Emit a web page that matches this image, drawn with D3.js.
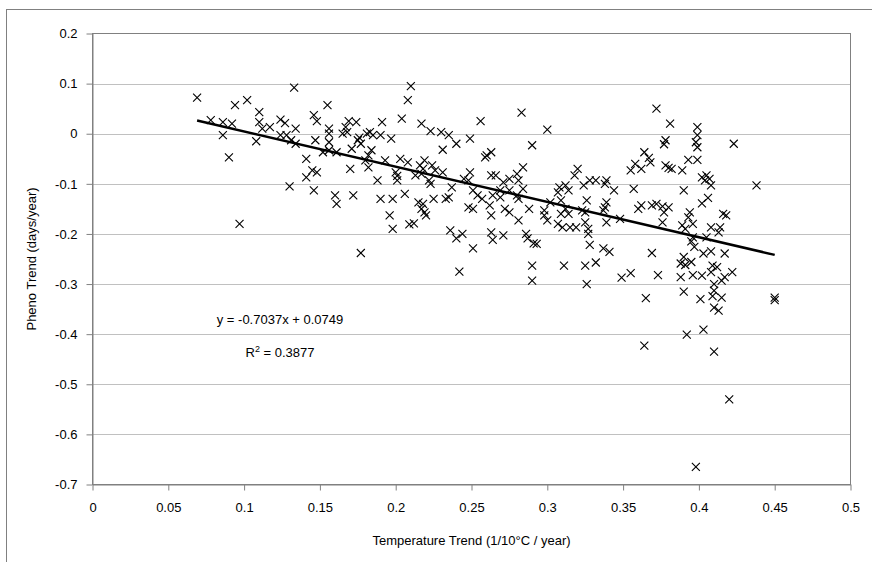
<!DOCTYPE html>
<html>
<head>
<meta charset="UTF-8">
<script src="https://d3js.org/d3.v7.min.js"></script>
<style>
  body { margin: 0; background: #fff; }
  svg { display: block; font-family: "Liberation Sans", Arial, sans-serif; }
</style>
</head>
<body>
<svg width="872" height="562"></svg>
<script>
// temperature trend (x) and pheno trend (y)
const tempTrend = [
  0.069,0.133,0.094,0.102,0.078,0.086,0.092,0.086,0.110,0.110,0.112,0.117,0.124,0.127,0.134,0.124,0.128,0.131,0.134,0.108,
  0.090,0.130,0.097,0.141,0.141,
  0.210,0.208,0.155,0.146,0.148,0.169,0.174,0.191,0.204,0.217,0.156,0.167,0.165,0.168,0.156,0.181,0.183,0.185,0.190,0.197,
  0.147,0.156,0.175,0.177,0.176,0.156,0.161,0.171,0.184,0.182,0.152,0.180,0.193,0.203,0.208,0.216,0.145,0.148,0.170,0.182,
  0.200,0.201,0.213,0.217,0.188,0.201,0.146,0.160,0.161,0.172,0.190,0.198,0.206,0.215,0.217,0.196,0.198,0.209,0.212,0.177,
  0.283,0.256,0.290,0.223,0.230,0.235,0.240,0.249,0.231,0.259,0.263,0.260,0.219,0.218,0.224,0.226,0.231,0.222,0.223,0.237,
  0.249,0.245,0.248,0.263,0.266,0.271,0.275,0.280,0.284,0.281,0.284,0.275,0.269,0.251,0.254,0.257,0.264,0.269,0.280,0.281,
  0.288,0.218,0.219,0.220,0.225,0.233,0.235,0.248,0.251,0.262,0.263,0.272,0.275,0.281,0.236,0.244,0.263,0.271,0.286,
  0.240,0.251,0.264,0.287,0.291,0.293,0.242,0.290,0.290,
  0.300,0.372,0.364,0.367,0.368,0.358,0.355,0.362,0.320,0.318,0.308,0.312,0.314,0.307,0.324,0.328,0.332,0.339,0.338,0.344,
  0.357,0.302,0.309,0.326,0.339,0.338,0.362,0.369,0.360,0.298,0.298,0.300,0.312,0.309,0.314,0.323,0.325,0.337,0.307,0.310,
  0.315,0.319,0.325,0.327,0.327,0.339,0.348,
  0.328,0.337,0.341,0.369,0.311,0.325,0.332,0.349,0.355,0.373,0.326,0.365,0.364,
  0.381,0.399,0.399,0.398,0.399,0.423,0.378,0.377,0.393,0.399,0.378,0.380,0.382,0.389,0.402,0.405,0.407,0.408,0.404,0.438,
  0.390,0.406,0.402,0.372,0.376,0.380,0.377,0.376,0.394,0.393,0.396,0.389,0.391,0.416,0.418,0.408,0.414,0.413,0.405,0.396,
  0.395,0.397,0.417,0.403,0.408,0.390,0.388,0.395,0.391,0.409,0.412,0.422,0.388,0.396,0.402,0.408,0.417,0.415,0.410,0.390,
  0.410,0.401,0.409,0.415,0.410,0.413,0.450,0.450,0.392,0.403,0.410,0.420,0.398
];
const phenoTrend = [
  0.072,0.092,0.057,0.067,0.027,0.023,0.020,-0.003,0.043,0.023,0.010,0.013,0.028,0.021,0.010,-0.003,-0.003,-0.013,-0.020,-0.015,
  -0.047,-0.105,-0.180,-0.050,-0.087,
  0.095,0.067,0.057,0.037,0.025,0.025,0.023,0.023,0.030,0.020,0.010,0.013,0.000,0.003,0.000,0.000,0.003,-0.003,-0.003,-0.010,
  -0.013,-0.017,-0.013,-0.020,-0.008,-0.033,-0.037,-0.030,-0.033,-0.043,-0.037,-0.053,-0.053,-0.050,-0.057,-0.063,-0.073,-0.077,-0.070,-0.067,
  -0.077,-0.084,-0.083,-0.080,-0.093,-0.093,-0.113,-0.123,-0.140,-0.123,-0.130,-0.130,-0.120,-0.137,-0.150,-0.163,-0.190,-0.181,-0.179,-0.238,
  0.042,0.025,-0.023,0.005,0.003,-0.003,-0.020,-0.010,-0.032,-0.047,-0.037,-0.043,-0.053,-0.070,-0.063,-0.073,-0.077,-0.093,-0.100,-0.107,
  -0.077,-0.090,-0.093,-0.083,-0.083,-0.097,-0.090,-0.080,-0.067,-0.093,-0.110,-0.113,-0.113,-0.113,-0.123,-0.130,-0.123,-0.127,-0.123,-0.130,
  -0.150,-0.140,-0.157,-0.163,-0.130,-0.130,-0.127,-0.147,-0.150,-0.143,-0.163,-0.150,-0.157,-0.173,-0.193,-0.200,-0.197,-0.203,-0.200,
  -0.209,-0.229,-0.212,-0.209,-0.219,-0.220,-0.275,-0.263,-0.293,
  0.008,0.050,-0.037,-0.048,-0.057,-0.060,-0.073,-0.070,-0.070,-0.083,-0.107,-0.103,-0.113,-0.117,-0.103,-0.093,-0.093,-0.093,-0.100,-0.113,
  -0.110,-0.137,-0.133,-0.133,-0.137,-0.147,-0.143,-0.143,-0.150,-0.153,-0.163,-0.173,-0.150,-0.160,-0.160,-0.153,-0.157,-0.153,-0.180,-0.187,
  -0.187,-0.187,-0.177,-0.190,-0.200,-0.177,-0.170,
  -0.222,-0.229,-0.236,-0.238,-0.263,-0.263,-0.257,-0.287,-0.278,-0.282,-0.300,-0.328,-0.423,
  0.020,0.013,-0.003,-0.017,-0.027,-0.020,-0.013,-0.021,-0.052,-0.052,-0.063,-0.068,-0.070,-0.073,-0.087,-0.083,-0.090,-0.103,-0.093,-0.103,
  -0.113,-0.128,-0.139,-0.140,-0.145,-0.147,-0.157,-0.177,-0.157,-0.167,-0.180,-0.183,-0.190,-0.160,-0.163,-0.187,-0.187,-0.197,-0.207,-0.207,
  -0.215,-0.226,-0.239,-0.239,-0.235,-0.246,-0.259,-0.256,-0.262,-0.263,-0.266,-0.276,-0.286,-0.282,-0.283,-0.276,-0.286,-0.293,-0.300,-0.315,
  -0.313,-0.330,-0.324,-0.327,-0.347,-0.353,-0.327,-0.332,-0.401,-0.391,-0.435,-0.530,-0.665
];
const xTicks = [0,0.05,0.1,0.15,0.2,0.25,0.3,0.35,0.4,0.45,0.5];
const yTicks = [0.2,0.1,0,-0.1,-0.2,-0.3,-0.4,-0.5,-0.6,-0.7];
const slope = -0.7037, intercept = 0.0749;
const rSquared = "0.3877";

const svg = d3.select("svg");
const plotL = 92.5, plotR = 850.5, plotT = 33.5, plotB = 484.5;

const x = d3.scaleLinear().domain([0, 0.5]).range([plotL, plotR]);
const y = d3.scaleLinear().domain([-0.7, 0.2]).range([plotB, plotT]);

// outer chart frame (only top/left visible)
svg.append("rect").attr("x", 6.5).attr("y", 9.5).attr("width", 900).attr("height", 600)
  .attr("fill", "none").attr("stroke", "#808080");

// gridlines
svg.append("g").selectAll("line").data(yTicks.slice(1, -1)).enter().append("line")
  .attr("x1", plotL).attr("x2", plotR)
  .attr("y1", d => Math.round(y(d)) + 0.5).attr("y2", d => Math.round(y(d)) + 0.5)
  .attr("stroke", "#c0c0c0");

// plot frame
svg.append("rect").attr("x", plotL).attr("y", plotT).attr("width", plotR - plotL).attr("height", plotB - plotT)
  .attr("fill", "none").attr("stroke", "#808080");

const fmt = d => String(d);
const yAxis = svg.append("g").attr("transform", `translate(${plotL},0)`)
  .call(d3.axisLeft(y).tickValues(yTicks).tickSize(6).tickSizeOuter(0).tickFormat(fmt));
const xAxis = svg.append("g").attr("transform", `translate(0,${plotB})`)
  .call(d3.axisBottom(x).tickValues(xTicks).tickSize(6).tickSizeOuter(0).tickFormat(fmt));
[yAxis, xAxis].forEach(a => {
  a.select(".domain").attr("stroke", "#808080");
  a.selectAll(".tick line").attr("stroke", "#808080");
  a.selectAll(".tick text").attr("fill", "#000").style("font-size", "13px")
    .style("font-family", "'Liberation Sans', Arial, sans-serif");
});
yAxis.selectAll(".tick text").attr("x", -15);
xAxis.selectAll(".tick text").attr("y", 18);

// points
const pts = tempTrend.map((t, i) => [t, phenoTrend[i]]);
svg.append("g").selectAll("path").data(pts).enter().append("path")
  .attr("transform", d => `translate(${x(d[0])},${y(d[1])})`)
  .attr("d", "M-4,-4L4,4M-4,4L4,-4")
  .attr("stroke", "#000").attr("stroke-width", 1.1).attr("fill", "none");

// trend line
const xr = d3.extent(tempTrend);
svg.append("path")
  .datum(xr.map(v => [v, slope * v + intercept]))
  .attr("d", d3.line().x(d => x(d[0])).y(d => y(d[1])))
  .attr("stroke", "#000").attr("stroke-width", 2.5).attr("fill", "none");

// equation
const eq = svg.append("g").style("font-size", "13px").attr("text-anchor", "middle");
eq.append("text").attr("x", 280).attr("y", 324).text(`y = ${slope}x + ${intercept}`);
const r2 = eq.append("text").attr("x", 280).attr("y", 357);
r2.append("tspan").text("R");
r2.append("tspan").attr("dy", -5).style("font-size", "9px").text("2");
r2.append("tspan").attr("dy", 5).text(` = ${rSquared}`);

// axis titles
svg.append("text").attr("transform", `translate(36,${(plotT + plotB) / 2}) rotate(-90)`)
  .attr("text-anchor", "middle").style("font-size", "13px").text("Pheno Trend (days/year)");
svg.append("text").attr("x", (plotL + plotR) / 2).attr("y", 545)
  .attr("text-anchor", "middle").style("font-size", "13px").text("Temperature Trend (1/10°C / year)");
</script>
</body>
</html>
